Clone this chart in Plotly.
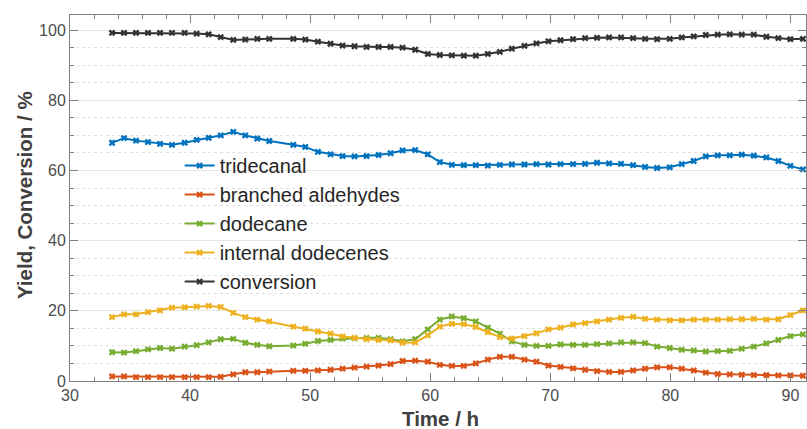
import plotly.graph_objects as go

time_h = [33.5, 34.5, 35.5, 36.5, 37.5, 38.5, 39.55, 40.55, 41.55, 42.55, 43.6, 44.6, 45.6, 46.6,
          48.6, 49.6, 50.65, 51.7, 52.7, 53.7, 54.7, 55.7, 56.7, 57.7, 58.75, 59.8, 60.8,
          61.8, 62.8, 63.8, 64.8, 65.8, 66.8, 67.85, 68.85, 69.85, 70.85, 71.9, 72.9, 73.9, 74.9,
          75.9, 76.9, 77.9, 78.9, 79.95, 80.95, 81.95, 82.95, 83.95, 84.95, 85.95, 86.95, 88.0,
          89.0, 90.0, 91.05]

tridecanal = [67.9, 69.2, 68.5, 68.1, 67.6, 67.3, 67.9, 68.7, 69.3, 70.0, 71.0, 70.0, 69.1, 68.4,
              67.3, 66.7, 65.3, 64.6, 64.1, 64.0, 64.1, 64.4, 64.9, 65.7, 65.8, 64.6, 62.4,
              61.6, 61.5, 61.5, 61.4, 61.6, 61.7, 61.7, 61.8, 61.7, 61.8, 61.8, 61.9, 62.2, 62.0,
              61.9, 61.5, 61.0, 60.7, 60.9, 61.8, 62.7, 64.0, 64.3, 64.3, 64.5, 64.2, 63.7,
              62.7, 61.3, 60.3]

branched_aldehydes = [1.3, 1.3, 1.1, 1.1, 1.1, 1.1, 1.1, 1.1, 1.1, 1.2, 1.9, 2.5, 2.5, 2.7,
                      2.9, 2.9, 3.0, 3.2, 3.5, 3.8, 4.1, 4.4, 4.8, 5.7, 5.8, 5.5, 4.6,
                      4.3, 4.3, 5.0, 6.1, 6.9, 6.9, 6.1, 5.5, 4.4, 4.0, 3.6, 3.2, 2.8, 2.6,
                      2.6, 3.0, 3.5, 3.9, 3.9, 3.5, 3.0, 2.4, 2.0, 1.9, 1.8, 1.7, 1.7,
                      1.6, 1.6, 1.5]

dodecane = [8.2, 8.1, 8.5, 9.0, 9.4, 9.2, 9.8, 10.2, 11.0, 11.9, 12.0, 10.9, 10.3, 9.9,
            10.1, 10.6, 11.4, 11.7, 12.1, 12.2, 12.3, 12.3, 11.9, 11.3, 11.9, 14.7, 17.5,
            18.4, 17.9, 17.0, 15.2, 13.5, 11.3, 10.3, 10.0, 10.0, 10.4, 10.3, 10.3, 10.5, 10.7,
            11.0, 11.0, 10.8, 9.8, 9.4, 8.9, 8.7, 8.4, 8.5, 8.6, 9.2, 9.8, 10.7,
            11.7, 12.8, 13.3]

internal_dodecenes = [18.2, 19.0, 19.0, 19.6, 20.1, 20.9, 21.0, 21.2, 21.4, 21.1, 19.4, 18.2, 17.5, 17.0,
                      15.5, 14.9, 14.1, 13.5, 12.7, 12.3, 11.9, 11.7, 11.6, 10.9, 11.0, 13.0, 15.5,
                      16.3, 16.2, 15.4, 13.9, 12.5, 12.1, 12.8, 13.6, 14.7, 15.2, 16.1, 16.5, 17.0, 17.5,
                      18.0, 18.3, 17.7, 17.5, 17.3, 17.3, 17.5, 17.5, 17.5, 17.6, 17.6, 17.7, 17.5,
                      17.6, 18.8, 20.1]

conversion = [99.2, 99.2, 99.2, 99.2, 99.2, 99.2, 99.2, 99.0, 98.8, 98.0, 97.2, 97.3, 97.5, 97.5,
              97.5, 97.3, 96.7, 96.1, 95.6, 95.4, 95.2, 95.2, 95.2, 95.0, 94.4, 93.2, 92.9,
              92.8, 92.7, 92.7, 93.2, 93.8, 94.7, 95.5, 96.2, 96.8, 97.1, 97.4, 97.7, 97.8, 97.9,
              97.9, 97.7, 97.5, 97.4, 97.5, 97.9, 98.2, 98.6, 98.7, 98.8, 98.7, 98.7, 98.1,
              97.7, 97.4, 97.5]

series_names = ["tridecanal", "branched aldehydes", "dodecane", "internal dodecenes", "conversion"]
series_values = [tridecanal, branched_aldehydes, dodecane, internal_dodecenes, conversion]
series_colors = ["#0072BD", "#D95319", "#77AC30", "#EDB120", "#333333"]

x_title = "Time / h"
y_title = "Yield, Conversion / %"

FONT = "Liberation Sans, Arial, Helvetica, sans-serif"

fig = go.Figure()
for name, vals, col in zip(series_names, series_values, series_colors):
    fig.add_trace(go.Scatter(
        x=time_h, y=vals, name=name, mode="lines+markers",
        line=dict(color=col, width=2),
        marker=dict(symbol="x", size=6, color=col, line=dict(width=0)),
    ))

axis_common = dict(
    showline=True, linecolor="#808080", linewidth=1, mirror="ticks",
    ticks="inside", tickcolor="#808080", ticklen=8, tickwidth=1,
    tickfont=dict(family=FONT, size=16, color="#4d4d4d"),
    zeroline=False, automargin=False,
)

fig.update_xaxes(
    range=[30, 91.3], tick0=30, dtick=10, showgrid=False,
    minor=dict(dtick=2, ticks="inside", ticklen=4, tickcolor="#808080", showgrid=False),
    **axis_common,
)
fig.update_yaxes(
    range=[0, 104.3], tick0=0, dtick=20, showgrid=True, gridcolor="#e6e6e6", gridwidth=1,
    minor=dict(dtick=5, ticks="inside", ticklen=4, tickcolor="#808080", showgrid=True,
               gridcolor="#e0e0e0", griddash="dot", gridwidth=1),
    **axis_common,
)

fig.add_annotation(
    text="<b>" + x_title + "</b>", xref="paper", yref="paper", x=0.503, y=0,
    xanchor="center", yanchor="middle", yshift=-37, showarrow=False,
    font=dict(family=FONT, size=20.5, color="#404040"),
)
fig.add_annotation(
    text="<b>" + y_title + "</b>", xref="paper", yref="paper", x=0, y=0.508,
    xanchor="center", yanchor="middle", xshift=-46, textangle=-90, showarrow=False,
    font=dict(family=FONT, size=20.5, color="#404040"),
)

fig.update_layout(
    width=807, height=429,
    margin=dict(l=70, r=1, t=15, b=48),
    paper_bgcolor="white", plot_bgcolor="white",
    font=dict(family=FONT, color="#404040"),
    legend=dict(
        x=0.149, y=0.43, xanchor="left", yanchor="middle",
        bgcolor="rgba(0,0,0,0)", borderwidth=0,
        font=dict(family=FONT, size=20, color="#262626"),
    ),
)

fig.write_html("out.html", config={"displayModeBar": False},
               post_script="document.body.style.margin='0';document.body.style.overflow='hidden';")
